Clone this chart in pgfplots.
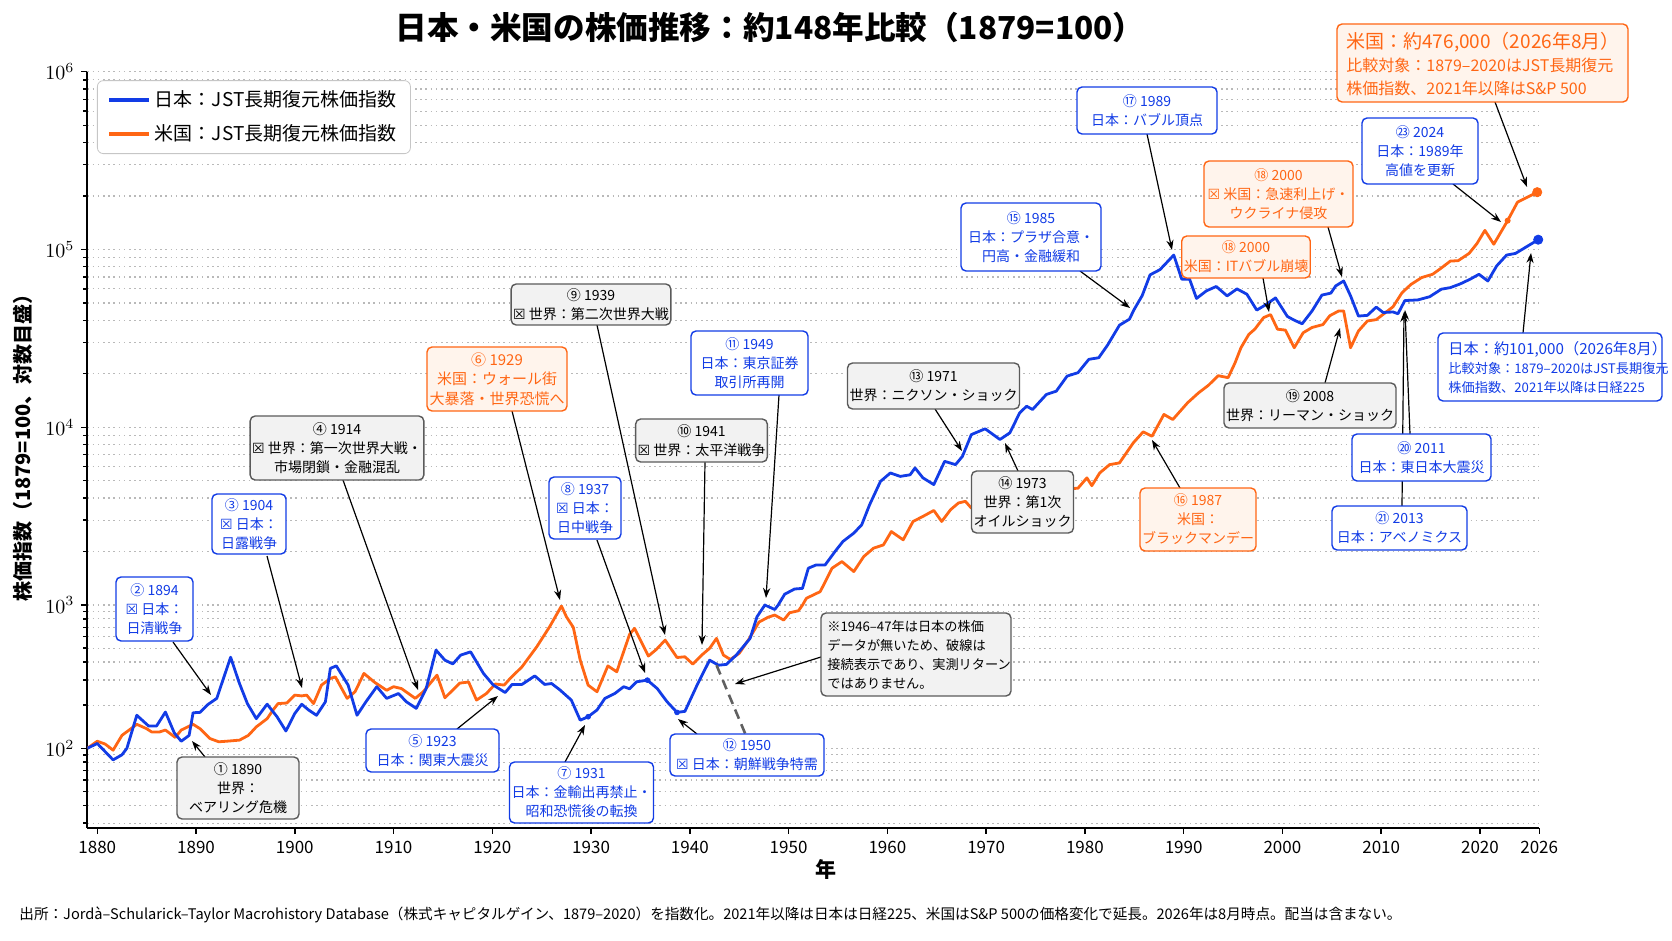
\documentclass[border=0pt]{standalone}
\usepackage{pgfplots}
\usepackage{pgfplotstable}
\pgfplotsset{compat=1.18}
\usepackage{fontspec}
\setmainfont{Noto Sans CJK JP}
\newfontfamily\dejavu{DejaVu Sans}
\usetikzlibrary{arrows.meta}

\definecolor{jblue}{RGB}{18,60,230}
\definecolor{uorange}{RGB}{255,102,20}
\definecolor{gridc}{RGB}{185,185,185}
\definecolor{ofill}{RGB}{255,244,236}
\definecolor{gfill}{RGB}{242,242,242}
\definecolor{gborder}{RGB}{90,90,90}
\newcommand{\bx}{{\dejavu ☒}}

\pgfplotstableread{
x y
1879 100
1880.0 108
1881.6 83
1882.5 90
1883.0 100
1884.0 170
1885.2 143
1886.0 143
1886.9 179
1887.8 128
1888.5 112
1889.3 123
1889.7 177
1890.4 178
1891.2 202
1892.1 223
1893.5 432
1894.4 283
1895.2 205
1896.1 161
1897.2 203
1898.2 166
1899.1 132
1900.0 175
1900.7 203
1901.4 185
1902.2 170
1903.1 211
1903.6 361
1904.2 376
1905.4 276
1906.3 170
1907.2 211
1908.3 269
1909.3 223
1910.5 241
1911.3 211
1912.3 190
1913.3 261
1914.3 484
1915.2 412
1916.0 388
1916.8 447
1917.8 471
1919.1 333
1920.1 276
1921.3 245
1922.0 279
1923.0 279
1924.3 320
1925.3 279
1926.0 283
1926.8 257
1928.0 217
1928.9 157
1929.7 166
1930.6 185
1931.4 223
1932.4 241
1933.3 269
1933.9 260
1934.6 291
1935.7 299
1936.7 261
1937.7 211
1938.7 178
1939.5 181
1940.7 273
1942.0 412
1942.9 380
1943.7 385
1944.7 447
1946.1 585
1946.8 828
1947.6 1000
1948.6 930
1949.6 1150
1950.6 1230
1951.4 1240
1952.0 1611
1952.8 1681
1953.7 1681
1954.7 2000
1955.5 2277
1956.6 2537
1957.4 2825
1958.2 3663
1959.3 4958
1960.3 5529
1961.3 5290
1962.3 5400
1962.8 5900
1963.6 5190
1964.7 4757
1965.8 6430
1966.9 6160
1967.6 6860
1968.5 9090
1969.9 9800
1971.4 8530
1972.4 9300
1973.4 12050
1974.1 13130
1974.7 12580
1976.1 15290
1977.1 15950
1978.2 19400
1979.3 20270
1980.4 24100
1981.4 24600
1982.3 29000
1983.5 37500
1984.5 40500
1985.0 46100
1985.8 55000
1986.6 72000
1987.6 77000
1989.0 93000
1989.8 68100
1990.6 68100
1991.3 53000
1992.3 58500
1993.3 61900
1994.4 54800
1995.4 60000
1996.4 56000
1997.4 45600
1998.3 48800
1999.3 53400
2000.5 42000
2001.2 40000
2002.0 38200
2003.0 45100
2004.0 55400
2004.9 56800
2005.4 62400
2006.2 66500
2006.9 54800
2007.7 42200
2008.6 42600
2009.5 47400
2010.2 44200
2011.2 44500
2011.7 43500
2012.4 51600
2013.7 52000
2014.9 54200
2016.1 59800
2017.0 61000
2018.0 64000
2019.0 68000
2019.9 72500
2020.8 66500
2021.7 80900
2022.7 93000
2023.6 95000
2025.9 113500
}\jpdata

\pgfplotstableread{
x y
1879 100
1880.0 112
1880.8 107
1881.6 97
1882.5 123
1884.0 147
1885.0 137
1885.5 130
1886.3 130
1886.9 134
1887.9 119
1888.5 134
1889.7 147
1890.4 137
1891.4 117
1892.3 111
1893.1 112
1894.4 114
1895.3 123
1896.1 141
1897.2 161
1897.8 185
1898.3 205
1899.2 207
1900.0 235
1900.7 232
1901.2 235
1901.9 205
1902.7 276
1903.6 307
1904.1 315
1905.3 223
1906.1 248
1907.0 333
1908.1 288
1909.3 254
1910.0 269
1910.8 261
1912.2 223
1913.0 248
1914.4 324
1915.2 225
1916.7 285
1917.6 290
1918.4 217
1919.4 241
1920.3 281
1921.2 276
1921.8 307
1923.0 370
1924.5 511
1925.8 705
1927.0 984
1927.5 828
1928.2 698
1928.9 412
1929.7 276
1930.6 248
1931.7 376
1932.6 342
1933.9 624
1934.4 687
1935.8 440
1936.6 489
1937.5 569
1938.7 430
1939.5 435
1940.3 387
1941.2 447
1942.0 498
1942.7 585
1943.4 447
1944.1 417
1945.0 460
1946.0 580
1947.0 760
1947.9 820
1948.6 851
1949.5 785
1950.1 883
1951.0 912
1951.8 1091
1953.2 1189
1954.4 1611
1955.4 1755
1956.6 1542
1957.6 1871
1958.6 2088
1959.6 2178
1960.4 2589
1961.6 2326
1962.6 2950
1963.6 3150
1964.7 3403
1965.5 2950
1966.4 3437
1967.2 3749
1967.9 3830
1968.5 3510
1969.5 3900
1970.5 3400
1971.5 3900
1972.5 4200
1973.5 3800
1974.5 3200
1975.5 3700
1976.5 4300
1977.5 4000
1978.3 4500
1979.3 4540
1980.2 5190
1980.7 4690
1981.5 5530
1982.5 6160
1983.5 6300
1984.9 8170
1985.9 9420
1986.8 8900
1988.0 11800
1988.9 11050
1990.4 13730
1991.5 15600
1992.5 17200
1993.5 19500
1994.5 19000
1995.2 23000
1995.8 28000
1996.6 33300
1997.2 35600
1998.1 41400
1998.8 43000
1999.5 35600
2000.3 35200
2001.2 28000
2002.1 34000
2003.0 36400
2004.1 37800
2004.8 42400
2005.7 45100
2006.2 45100
2006.9 28000
2007.7 34800
2008.6 39600
2009.5 40300
2010.4 44000
2011.2 47600
2012.1 57000
2013.0 63500
2014.1 69500
2015.2 72500
2016.0 78000
2017.0 86000
2017.8 86500
2018.9 95000
2019.7 108000
2020.5 128000
2021.4 107000
2022.8 145200
2023.8 184500
2025.8 210000
}\usdata

\tikzset{
  abox/.style={rounded corners=2.5pt, line width=0.7pt, align=center, inner sep=1pt, font=\fontsize{7}{9.5}\selectfont},
  bb/.style={abox, draw=jblue, fill=white, text=jblue},
  ob/.style={abox, draw=uorange, fill=ofill, text=uorange},
  gb/.style={abox, draw=gborder, fill=gfill, text=black},
  arr/.style={-{Stealth[length=5pt,width=3.6pt]}, line width=0.6pt, black},
}

\begin{document}
\begin{tikzpicture}
\useasboundingbox (0pt,0pt) rectangle (836pt,-470.5pt);

% upper part of the log axis (10^3 .. 10^6)
\begin{axis}[ymode=log,
  scale only axis, width=725.9pt, height=266.65pt,
  at={(43.7pt,-35.85pt)}, anchor=north west,
  xmin=1879, xmax=2026, ymin=1000, ymax=1000000,
  axis x line=none, axis y line*=left, ytick pos=left, xtick=\empty,
  axis line style={line width=1pt, black},
  ymajorgrids, yminorgrids,
  major grid style={gridc, line width=0.6pt, dash pattern=on 0.8pt off 1.8pt},
  minor grid style={gridc, line width=0.6pt, dash pattern=on 0.8pt off 1.8pt},
  tick align=outside, major tick length=3pt, minor tick length=2pt,
  tick style={black, line width=0.7pt},
  yticklabel style={font=\fontsize{10}{12}\selectfont},
  ytick={1000,10000,100000,1000000},
  minor ytick={2000,3000,4000,5000,6000,7000,8000,9000,20000,30000,40000,50000,60000,70000,80000,90000,200000,300000,400000,500000,600000,700000,800000,900000},
  legend style={at={(0.0066,0.984)}, anchor=north west, draw=gray!45, rounded corners=3pt, fill=white,
    font=\fontsize{9.5}{11}\selectfont, inner xsep=5pt, inner ysep=3pt, row sep=3.5pt, cells={anchor=west}},
  legend image code/.code={\draw[#1] (0pt,0pt) -- (20pt,0pt);},
]
\addlegendimage{color=jblue, line width=1.8pt}
\addlegendentry{日本：JST長期復元株価指数}
\addlegendimage{color=uorange, line width=1.8pt}
\addlegendentry{米国：JST長期復元株価指数}
\addplot[color=uorange, line width=1.4pt, line join=round, forget plot] table[x=x,y=y] {\usdata};
\addplot[color=jblue, line width=1.4pt, line join=round, forget plot] table[x=x,y=y] {\jpdata};
\addplot[only marks, mark=*, mark size=2.3pt, color=uorange, forget plot] coordinates {(2025.8,210000)};
\addplot[only marks, mark=*, mark size=1.3pt, color=uorange, forget plot] coordinates {(2022.8,145200)};
\addplot[only marks, mark=*, mark size=2.3pt, color=jblue, forget plot] coordinates {(2025.9,113500)};
\end{axis}

% lower part of the log axis (below 10^3)
\begin{axis}[ymode=log,
  scale only axis, width=725.9pt, height=111.35pt,
  at={(43.7pt,-302.5pt)}, anchor=north west,
  xmin=1879, xmax=2026, ymin=27.9, ymax=1000,
  axis x line*=bottom, axis y line*=left, ytick pos=left, xtick pos=bottom,
  axis line style={line width=1pt, black},
  ymajorgrids, yminorgrids,
  major grid style={gridc, line width=0.6pt, dash pattern=on 0.8pt off 1.8pt},
  minor grid style={gridc, line width=0.6pt, dash pattern=on 0.8pt off 1.8pt},
  tick align=outside, major tick length=3pt, minor tick length=2pt,
  tick style={black, line width=0.7pt},
  yticklabel style={font=\fontsize{10}{12}\selectfont},
  xticklabel style={font=\fontsize{8.5}{10}\selectfont},
  ytick={100},
  minor ytick={30,40,50,60,70,80,90,200,300,400,500,600,700,800,900},
  xtick={1880,1890,1900,1910,1920,1930,1940,1950,1960,1970,1980,1990,2000,2010,2020,2026},
  xticklabels={1880,1890,1900,1910,1920,1930,1940,1950,1960,1970,1980,1990,2000,2010,2020,2026},
]
\addplot[color=uorange, line width=1.4pt, line join=round] table[x=x,y=y] {\usdata};
\addplot[color=jblue, line width=1.4pt, line join=round] table[x=x,y=y] {\jpdata};
\addplot[color=gray!75!black, line width=1.3pt, dash pattern=on 5pt off 3pt] coordinates {(1942.7,380) (1945.7,122)};
\addplot[only marks, mark=*, mark size=1.2pt, color=jblue] coordinates {(1929.7,166) (1935.7,299) (1938.7,178)};
\end{axis}

\begin{scope}[x=0.5pt, y=-0.5pt]
% arrows
\draw[arr] (205,757) -- (192,741);
\draw[arr] (173,642) -- (211,695);
\draw[arr] (267,556) -- (302,688);
\draw[arr] (343,480) -- (418,690);
\draw[arr] (457,729) -- (498,696);
\draw[arr] (512,411) -- (560,600);
\draw[arr] (565,762) -- (585,725);
\draw[arr] (597,540) -- (645,673);
\draw[arr] (597,325) -- (665,635);
\draw[arr] (705,462) -- (702,645);
\draw[arr] (779,395) -- (766,598);
\draw[arr] (697,734) -- (678,719);
\draw[arr] (821,657) -- (735,684);
\draw[arr] (935,409) -- (962,451);
\draw[arr] (1018,471) -- (1005,443);
\draw[arr] (1080,271) -- (1130,308);
\draw[arr] (1180,488) -- (1152,440);
\draw[arr] (1147,134) -- (1172,250);
\draw[arr] (1328,227) -- (1342,277);
\draw[arr] (1263,278) -- (1269,312);
\draw[arr] (1325,383) -- (1340,328);
\draw[arr] (1402,506) -- (1404,312);
\draw[arr] (1410,434) -- (1405,310);
\draw[arr] (1453,184) -- (1501,222);
\draw[arr] (1495,102) -- (1527,187);
\draw[arr] (1523,333) -- (1531,253);

% boxes
\node[gb, minimum width=61pt, minimum height=31pt] at (238,788) {① 1890\\世界：\\ベアリング危機};
\node[bb, minimum width=38.5pt, minimum height=32pt] at (154.5,609) {② 1894\\\bx\ 日本：\\日清戦争};
\node[bb, minimum width=37pt, minimum height=30pt] at (249,524) {③ 1904\\\bx\ 日本：\\日露戦争};
\node[gb, minimum width=84pt, minimum height=32pt] at (337,448) {④ 1914\\\bx\ 世界：第一次世界大戦・\\市場閉鎖・金融混乱};
\node[bb, minimum width=66.5pt, minimum height=21.5pt] at (432.5,750.5) {⑤ 1923\\日本：関東大震災};
\node[ob, minimum width=70pt, minimum height=32pt, font=\fontsize{7.5}{9.8}\selectfont] at (497,379) {⑥ 1929\\米国：ウォール街\\大暴落・世界恐慌へ};
\node[bb, minimum width=71.5pt, minimum height=30.5pt] at (581.5,792.5) {⑦ 1931\\日本：金輸出再禁止・\\昭和恐慌後の転換};
\node[bb, minimum width=36pt, minimum height=31pt] at (585,508) {⑧ 1937\\\bx\ 日本：\\日中戦争};
\node[gb, minimum width=79pt, minimum height=20.5pt] at (591,304.5) {⑨ 1939\\\bx\ 世界：第二次世界大戦};
\node[gb, minimum width=65.5pt, minimum height=21.5pt] at (701.5,440.5) {⑩ 1941\\\bx\ 世界：太平洋戦争};
\node[bb, minimum width=58.5pt, minimum height=32pt] at (749.5,363) {⑪ 1949\\日本：東京証券\\取引所再開};
\node[bb, minimum width=77pt, minimum height=21pt] at (747,755) {⑫ 1950\\\bx\ 日本：朝鮮戦争特需};
\node[gb, minimum width=80.5pt, minimum height=23pt] at (933.5,386) {⑬ 1971\\世界：ニクソン・ショック};
\node[gb, minimum width=47.5pt, minimum height=31pt] at (1022.5,502) {⑭ 1973\\世界：第1次\\オイルショック};
\node[bb, minimum width=70pt, minimum height=34pt] at (1031,237) {⑮ 1985\\日本：プラザ合意・\\円高・金融緩和};
\node[ob, minimum width=58pt, minimum height=31.5pt] at (1198,519.5) {⑯ 1987\\米国：\\ブラックマンデー};
\node[bb, minimum width=70pt, minimum height=23.5pt] at (1147,110.5) {⑰ 1989\\日本：バブル頂点};
\node[ob, minimum width=74.5pt, minimum height=33pt] at (1278.5,194) {⑱ 2000\\\bx\ 米国：急速利上げ・\\ウクライナ侵攻};
\node[ob, minimum width=62pt, minimum height=21pt] at (1246,257) {⑱ 2000\\米国：ITバブル崩壊};
\node[gb, minimum width=77pt, minimum height=22.5pt] at (1310,405.5) {⑲ 2008\\世界：リーマン・ショック};
\node[bb, minimum width=69.5pt, minimum height=23.5pt] at (1421.5,457.5) {⑳ 2011\\日本：東日本大震災};
\node[bb, minimum width=67.5pt, minimum height=22pt] at (1399.5,528) {㉑ 2013\\日本：アベノミクス};
\node[bb, minimum width=58pt, minimum height=33pt] at (1420,151) {㉓ 2024\\日本：1989年\\高値を更新};

% note box
\draw[gborder, fill=gfill, line width=0.7pt, rounded corners=2.5pt] (821,613) rectangle (1011,696);
\node[anchor=west, align=left, inner sep=0pt, font=\fontsize{6.6}{9.5}\selectfont] at (827,655)
  {※1946–47年は日本の株価\\データが無いため、破線は\\接続表示であり、実測リターン\\ではありません。};

% final value boxes
\draw[uorange, fill=ofill, line width=0.7pt, rounded corners=2.5pt] (1337,24) rectangle (1628,102);
\node[anchor=west, align=left, inner sep=0pt, text=uorange, font=\fontsize{8}{11.5}\selectfont] at (1346,64)
  {{\fontsize{9.5}{11.5}\selectfont 米国：約476,000（2026年8月）}\\比較対象：1879–2020はJST長期復元\\株価指数、2021年以降はS\&P 500};
\draw[jblue, fill=white, line width=0.7pt, rounded corners=2.5pt] (1438,333) rectangle (1662,401);
\node[anchor=west, align=left, inner sep=0pt, text=jblue, font=\fontsize{6.6}{9.5}\selectfont] at (1448,368)
  {{\fontsize{7.6}{9.5}\selectfont 日本：約101,000（2026年8月）}\\比較対象：1879–2020はJST長期復元\\株価指数、2021年以降は日経225};

% titles and labels
\node[font=\bfseries\fontsize{15.8}{18}\selectfont] at (770,27) {日本・米国の株価推移：約148年比較（1879=100）};
\node[rotate=90, font=\bfseries\fontsize{10}{12}\selectfont] at (23,443) {株価指数（1879=100、対数目盛）};
\node[font=\bfseries\fontsize{10.5}{12}\selectfont] at (826,869) {年};
\node[anchor=west, inner sep=0pt, font=\fontsize{7.3}{9}\selectfont] at (19,915) {出所：Jordà–Schularick–Taylor Macrohistory Database（株式キャピタルゲイン、1879–2020）を指数化。2021年以降は日本は日経225、米国はS\&P 500の価格変化で延長。2026年は8月時点。配当は含まない。};
\end{scope}
\end{tikzpicture}
\end{document}
